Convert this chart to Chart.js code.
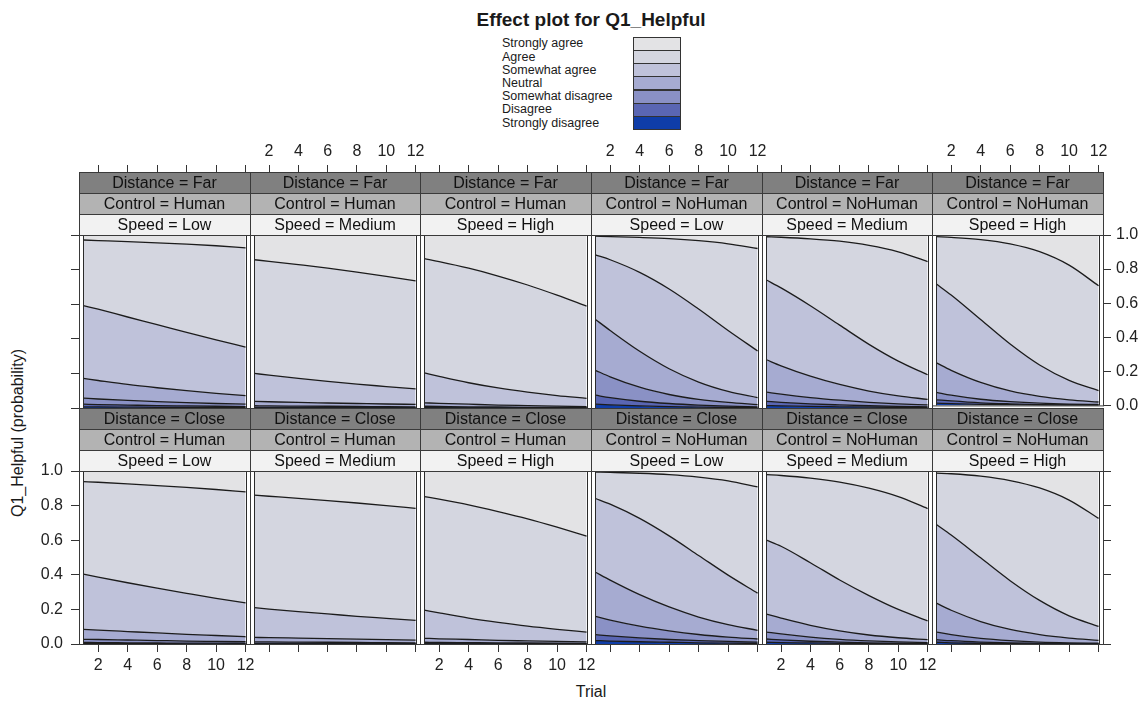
<!DOCTYPE html>
<html>
<head>
<meta charset="utf-8">
<script src="https://cdn.jsdelivr.net/npm/chart.js@4.4.1/dist/chart.umd.min.js"></script>
<style>
  html, body { margin: 0; padding: 0; background: #fff; }
  #page { position: relative; width: 1142px; height: 701px; overflow: hidden;
          font-family: "Liberation Sans", Arial, sans-serif; color: #1a1a1a; }
  #page canvas { position: absolute; }
  .title { position: absolute; left: 0; width: 1182px; top: 9px; text-align: center;
           font-weight: bold; font-size: 19px; }
  .key-label { position: absolute; left: 502px; font-size: 12.5px; line-height: 13.2px; white-space: nowrap; }
  .key-box { position: absolute; left: 633px; width: 46px; height: 12.2px; border: 1px solid #333; }
  .xlab { position: absolute; left: 0; width: 1182px; top: 683px; text-align: center; font-size: 16px; }
  .ylab { position: absolute; left: 18px; top: 433px; font-size: 16px; white-space: nowrap;
          transform: translate(-50%, -50%) rotate(-90deg); }
</style>
</head>
<body>
<div id="page">
  <div class="title">Effect plot for Q1_Helpful</div>
  <div class="xlab">Trial</div>
  <div class="ylab">Q1_Helpful (probability)</div>
</div>
<script>
// x positions and axis ticks
const trials = [1, 2, 4, 6, 8, 10, 12];
const trialTicks = [2, 4, 6, 8, 10, 12];
const probTicks = [0, 0.2, 0.4, 0.6, 0.8, 1];

// response levels, top of the stack first
const categories = ['Strongly agree', 'Agree', 'Somewhat agree', 'Neutral',
                    'Somewhat disagree', 'Disagree', 'Strongly disagree'];
const categoryColors = ['#e3e3e5', '#d4d6e0', '#bfc2da', '#a6abd1', '#8a91c5', '#5a66b3', '#0f3da8'];

const distances = ['Far', 'Close'];
const controls = ['Human', 'Human', 'Human', 'NoHuman', 'NoHuman', 'NoHuman'];
const speeds = ['Low', 'Medium', 'High', 'Low', 'Medium', 'High'];

// cumulative probabilities per trial: P(<= Strongly disagree) ... P(<= Agree)
const farHumanLow = [
  [0.007, 0.006, 0.005, 0.004, 0.004, 0.003, 0.003],
  [0.022, 0.020, 0.017, 0.014, 0.012, 0.010, 0.008],
  [0.057, 0.052, 0.044, 0.037, 0.031, 0.026, 0.022],
  [0.171, 0.159, 0.136, 0.117, 0.100, 0.085, 0.072],
  [0.592, 0.571, 0.526, 0.482, 0.437, 0.394, 0.352],
  [0.971, 0.968, 0.962, 0.955, 0.947, 0.938, 0.926]
];
const farHumanMedium = [
  [0.001, 0.001, 0.001, 0.001, 0.001, 0.001, 0.001],
  [0.004, 0.004, 0.004, 0.003, 0.003, 0.003, 0.002],
  [0.013, 0.012, 0.011, 0.010, 0.009, 0.008, 0.007],
  [0.038, 0.036, 0.032, 0.029, 0.026, 0.023, 0.021],
  [0.200, 0.190, 0.171, 0.154, 0.138, 0.124, 0.110],
  [0.857, 0.848, 0.829, 0.809, 0.786, 0.761, 0.735]
];
const farHumanHigh = [
  [0.001, 0.001, 0.001, 0.001, 0.0005, 0.0005, 0.0003],
  [0.003, 0.003, 0.002, 0.002, 0.002, 0.001, 0.001],
  [0.010, 0.009, 0.007, 0.006, 0.004, 0.003, 0.003],
  [0.030, 0.027, 0.022, 0.017, 0.014, 0.011, 0.008],
  [0.203, 0.183, 0.146, 0.116, 0.092, 0.072, 0.056],
  [0.863, 0.846, 0.808, 0.763, 0.711, 0.652, 0.589]
];
const farNoHumanLow = [
  [0.022, 0.018, 0.012, 0.008, 0.005, 0.003, 0.002],
  [0.074, 0.060, 0.039, 0.026, 0.017, 0.011, 0.007],
  [0.218, 0.180, 0.120, 0.078, 0.050, 0.032, 0.020],
  [0.512, 0.448, 0.328, 0.227, 0.150, 0.096, 0.060],
  [0.885, 0.857, 0.784, 0.688, 0.572, 0.448, 0.330],
  [0.993, 0.991, 0.986, 0.979, 0.967, 0.949, 0.922]
];
const farNoHumanMedium = [
  [0.014, 0.012, 0.009, 0.007, 0.005, 0.004, 0.003],
  [0.038, 0.033, 0.024, 0.018, 0.013, 0.009, 0.007],
  [0.092, 0.080, 0.060, 0.045, 0.033, 0.024, 0.018],
  [0.279, 0.244, 0.184, 0.136, 0.098, 0.070, 0.050],
  [0.740, 0.694, 0.591, 0.479, 0.368, 0.271, 0.192],
  [0.990, 0.987, 0.978, 0.964, 0.940, 0.903, 0.846]
];
const farNoHumanHigh = [
  [0.013, 0.010, 0.006, 0.004, 0.002, 0.001, 0.001],
  [0.033, 0.026, 0.015, 0.009, 0.005, 0.003, 0.002],
  [0.077, 0.060, 0.036, 0.022, 0.013, 0.008, 0.006],
  [0.250, 0.206, 0.135, 0.085, 0.053, 0.033, 0.020],
  [0.712, 0.648, 0.504, 0.360, 0.237, 0.147, 0.087],
  [0.990, 0.986, 0.973, 0.948, 0.902, 0.823, 0.702]
];
const closeHumanLow = [
  [0.002, 0.002, 0.002, 0.002, 0.001, 0.001, 0.001],
  [0.009, 0.008, 0.007, 0.006, 0.005, 0.005, 0.004],
  [0.027, 0.026, 0.023, 0.020, 0.017, 0.015, 0.013],
  [0.084, 0.080, 0.072, 0.064, 0.056, 0.049, 0.042],
  [0.404, 0.387, 0.354, 0.323, 0.293, 0.264, 0.238],
  [0.939, 0.935, 0.926, 0.916, 0.905, 0.893, 0.879]
];
const closeHumanMedium = [
  [0.001, 0.001, 0.001, 0.001, 0.001, 0.001, 0.001],
  [0.004, 0.004, 0.003, 0.003, 0.003, 0.002, 0.002],
  [0.012, 0.012, 0.011, 0.010, 0.009, 0.008, 0.007],
  [0.038, 0.037, 0.034, 0.031, 0.028, 0.025, 0.022],
  [0.210, 0.202, 0.187, 0.174, 0.160, 0.148, 0.136],
  [0.860, 0.854, 0.842, 0.829, 0.815, 0.800, 0.784]
];
const closeHumanHigh = [
  [0.001, 0.001, 0.001, 0.001, 0.0005, 0.0005, 0.0004],
  [0.003, 0.003, 0.002, 0.002, 0.002, 0.001, 0.001],
  [0.010, 0.009, 0.008, 0.007, 0.006, 0.005, 0.004],
  [0.033, 0.030, 0.026, 0.021, 0.018, 0.015, 0.012],
  [0.196, 0.180, 0.150, 0.125, 0.103, 0.085, 0.069],
  [0.852, 0.837, 0.804, 0.765, 0.723, 0.675, 0.624]
];
const closeNoHumanLow = [
  [0.020, 0.017, 0.013, 0.010, 0.007, 0.005, 0.004],
  [0.054, 0.047, 0.035, 0.026, 0.020, 0.015, 0.011],
  [0.159, 0.138, 0.103, 0.076, 0.055, 0.040, 0.029],
  [0.415, 0.369, 0.285, 0.214, 0.156, 0.112, 0.079],
  [0.841, 0.808, 0.726, 0.625, 0.512, 0.398, 0.294],
  [0.994, 0.992, 0.987, 0.979, 0.965, 0.943, 0.908]
];
const closeNoHumanMedium = [
  [0.010, 0.008, 0.006, 0.004, 0.002, 0.002, 0.001],
  [0.029, 0.024, 0.016, 0.011, 0.007, 0.005, 0.003],
  [0.069, 0.058, 0.040, 0.027, 0.018, 0.012, 0.008],
  [0.173, 0.150, 0.108, 0.076, 0.052, 0.036, 0.025],
  [0.601, 0.565, 0.470, 0.370, 0.280, 0.200, 0.134],
  [0.979, 0.974, 0.959, 0.936, 0.901, 0.852, 0.783]
];
const closeNoHumanHigh = [
  [0.010, 0.007, 0.004, 0.002, 0.001, 0.001, 0.001],
  [0.025, 0.019, 0.011, 0.006, 0.004, 0.002, 0.002],
  [0.069, 0.054, 0.032, 0.019, 0.011, 0.007, 0.005],
  [0.236, 0.195, 0.130, 0.084, 0.054, 0.034, 0.021],
  [0.691, 0.630, 0.498, 0.366, 0.252, 0.163, 0.102],
  [0.988, 0.984, 0.970, 0.945, 0.902, 0.832, 0.726]
];

const panelRows = [
  [farHumanLow, farHumanMedium, farHumanHigh, farNoHumanLow, farNoHumanMedium, farNoHumanHigh],
  [closeHumanLow, closeHumanMedium, closeHumanHigh, closeNoHumanLow, closeNoHumanMedium, closeNoHumanHigh]
];

const FONT = '"Liberation Sans", Arial, sans-serif';
Chart.defaults.font.family = FONT;
Chart.defaults.font.size = 16;
Chart.defaults.color = '#222';

const page = document.getElementById('page');

// key: labels on the left, stacked colour boxes on the right
categories.forEach((name, i) => {
  const lab = document.createElement('div');
  lab.className = 'key-label';
  lab.style.top = (37.4 + i * 13.2) + 'px';
  lab.textContent = name;
  page.appendChild(lab);
  const box = document.createElement('div');
  box.className = 'key-box';
  box.style.top = (36.7 + i * 13.2) + 'px';
  box.style.background = categoryColors[i];
  page.appendChild(box);
});

// panel layout
const PLOT_LEFT = 79;
const PANEL_W = 1024 / 6;
const PLOT_H = 173;
const STRIP_H = 21;
const SIDE = 60;
const rowTops = [235, 471];

// strips above each panel, the panel frame and the outline of the filled region
const lattice = {
  id: 'lattice',
  afterDraw(chart, args, opts) {
    const { ctx, chartArea: a } = chart;
    const x = chart.scales.x, y = chart.scales.y;
    ctx.save();
    ctx.lineWidth = 1;
    ctx.strokeStyle = '#2b2b2b';
    [trials[0], trials[trials.length - 1]].forEach(t => {
      const px = Math.round(x.getPixelForValue(t)) + 0.5;
      ctx.beginPath();
      ctx.moveTo(px, y.getPixelForValue(0));
      ctx.lineTo(px, y.getPixelForValue(1));
      ctx.stroke();
    });
    const stripFills = ['#808080', '#b3b3b3', '#f2f2f2'];
    ctx.font = '16px ' + FONT;
    ctx.textAlign = 'center';
    ctx.textBaseline = 'middle';
    opts.labels.forEach((txt, i) => {
      const top = a.top - STRIP_H * (3 - i);
      ctx.fillStyle = stripFills[i];
      ctx.fillRect(a.left, top, a.width, STRIP_H);
      ctx.strokeStyle = '#3a3a3a';
      ctx.strokeRect(a.left + 0.5, top + 0.5, a.width, STRIP_H);
      ctx.fillStyle = '#111';
      ctx.fillText(txt, (a.left + a.right) / 2, top + STRIP_H / 2 + 1);
    });
    ctx.strokeStyle = '#3a3a3a';
    ctx.strokeRect(a.left + 0.5, a.top + 0.5, a.width, a.height);
    ctx.restore();
  }
};

function makePanel(row, col) {
  const left = Math.round(PLOT_LEFT + col * PANEL_W);
  const right = Math.round(PLOT_LEFT + (col + 1) * PANEL_W);
  const top = rowTops[row];
  const cum = panelRows[row][col];

  const pad = { left: SIDE, right: SIDE, top: 0, bottom: 0 };
  let canvasTop, canvasH;
  const xAxisH = row === 0 ? 103 : 40;
  if (row === 0) {
    pad.bottom = 12;
    canvasTop = top - xAxisH;
    canvasH = xAxisH + PLOT_H + pad.bottom;
  } else {
    pad.top = 68;
    canvasTop = top - pad.top;
    canvasH = pad.top + PLOT_H + xAxisH;
  }
  const yPos = col === 0 ? 'left' : (col === 5 ? 'right' : null);
  if (yPos === 'left') pad.left = 0;
  if (yPos === 'right') pad.right = 0;

  const canvas = document.createElement('canvas');
  canvas.width = right - left + 2 * SIDE;
  canvas.height = canvasH;
  canvas.style.left = (left - SIDE) + 'px';
  canvas.style.top = canvasTop + 'px';
  canvas.style.width = canvas.width + 'px';
  canvas.style.height = canvasH + 'px';
  page.appendChild(canvas);

  const datasets = cum.map((vals, k) => ({
    data: trials.map((t, i) => ({ x: t, y: vals[i] })),
    backgroundColor: categoryColors[6 - k],
    borderColor: '#1c1c1c',
    borderWidth: 1.3,
    fill: k === 0 ? 'origin' : '-1'
  }));
  // band above the last boundary, up to 1
  datasets.push({
    data: trials.map((t, i) => ({ x: t, y: cum[5][i] })),
    backgroundColor: categoryColors[0],
    borderWidth: 0,
    fill: 'end'
  });

  const xLabels = row === 0 ? col % 2 === 1 : col % 2 === 0;
  const yLabels = (row === 0 && col === 5) || (row === 1 && col === 0);

  new Chart(canvas, {
    type: 'line',
    data: { datasets },
    options: {
      responsive: false,
      animation: false,
      events: [],
      layout: { padding: pad },
      elements: { point: { radius: 0 }, line: { cubicInterpolationMode: 'monotone' } },
      plugins: {
        legend: { display: false },
        tooltip: { enabled: false },
        lattice: { labels: ['Distance = ' + distances[row], 'Control = ' + controls[col], 'Speed = ' + speeds[col]] }
      },
      scales: {
        x: {
          type: 'linear',
          position: row === 0 ? 'top' : 'bottom',
          min: 0.7,
          max: 12.3,
          afterBuildTicks: s => { s.ticks = trialTicks.map(v => ({ value: v })); },
          afterFit: s => { s.height = xAxisH; },
          grid: { drawOnChartArea: false, drawTicks: true, tickLength: row === 0 ? 70 : 8, color: '#333' },
          border: { display: false },
          ticks: { display: xLabels, maxRotation: 0, padding: 4, color: '#222' }
        },
        y: {
          display: yPos !== null,
          position: yPos || 'left',
          min: 0,
          max: 1,
          afterBuildTicks: s => { s.ticks = probTicks.map(v => ({ value: v })); },
          afterFit: s => { if (yPos) s.width = SIDE; },
          grid: { drawOnChartArea: false, drawTicks: true, tickLength: 8, color: '#333' },
          border: { display: false },
          ticks: { display: yLabels, padding: yPos === 'left' ? 8 : 5, color: '#222',
                   callback: v => v.toFixed(1) }
        }
      }
    },
    plugins: [lattice]
  });
}

for (let r = 0; r < 2; r++) {
  for (let c = 0; c < 6; c++) makePanel(r, c);
}
</script>
</body>
</html>
